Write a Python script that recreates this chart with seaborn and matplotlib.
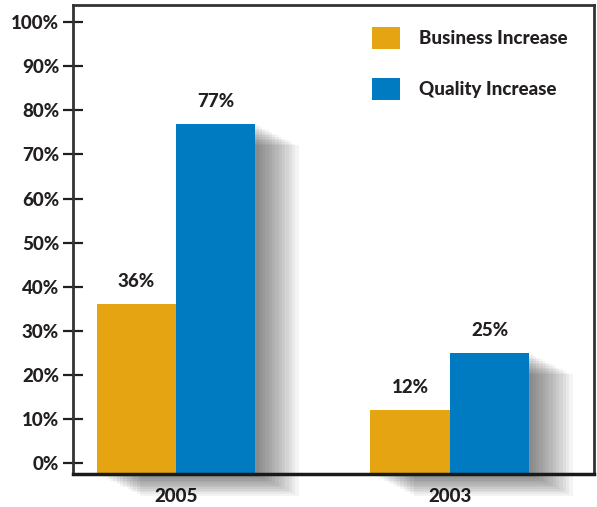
import matplotlib
matplotlib.use("Agg")
import matplotlib.pyplot as plt
import matplotlib.patheffects as pe
import seaborn as sns
import pandas as pd
from matplotlib.patches import Patch

years = ["2005", "2003"]
business = [36, 12]
quality = [77, 25]
series = ["Business Increase", "Quality Increase"]
yticks = [0, 10, 20, 30, 40, 50, 60, 70, 80, 90, 100]
colors = ["#E5A512", "#007BC2"]
txt = "#231f20"
W = "black"
FS = 13.5

df = pd.DataFrame({
    "year": years * 2,
    "value": business + quality,
    "series": [series[0]] * len(years) + [series[1]] * len(years),
})

sns.set_style("white")
plt.rcParams["font.family"] = ["Lato", "DejaVu Sans"]
plt.rcParams["font.weight"] = W

fig = plt.figure(figsize=(5.97, 5.07), dpi=100)
ax = fig.add_axes([73 / 597, 33 / 507, 521 / 597, 469 / 507])

sns.barplot(data=df, x="year", y="value", hue="series", order=years,
            hue_order=series, palette=colors, width=0.58, saturation=1,
            ax=ax, legend=False)

ymin = -2.5
shadow = [pe.SimplePatchShadow(offset=(i * 2.4, -i * 1.2), shadow_rgbFace="black", alpha=0.045)
          for i in range(1, 14)] + [pe.Normal()]
for p in ax.patches:
    p.set_linewidth(0)
    p.set_clip_on(False)
    h = p.get_height()
    p.set_y(ymin)
    p.set_height(h - ymin)
    p.set_path_effects(shadow)

for cont in ax.containers:
    ax.bar_label(cont, labels=[f"{v:.0f}%" for v in cont.datavalues], padding=10,
                 fontsize=FS, fontweight=W, color=txt)

ax.set_xlim(-0.376, 1.526)
ax.set_ylim(ymin, 103.9)
ax.set_yticks(yticks)
ax.set_yticklabels([f"{v}%" for v in yticks], fontsize=FS, fontweight=W, color=txt)
ax.tick_params(axis="y", direction="inout", length=14, width=1.6, color=txt, pad=3, left=True)
ax.set_xticks([0, 1])
ax.set_xticklabels(years, fontsize=FS, fontweight=W, color=txt)
ax.tick_params(axis="x", length=0, pad=10)
ax.set_xticks([0.2, 1.2], minor=True)
ax.tick_params(axis="x", which="minor", direction="out", length=24, width=0.8, color="#d8d8d8")
ax.set_xlabel("")
ax.set_ylabel("")
for s in ax.spines.values():
    s.set_visible(True)
    s.set_color("#333333")
    s.set_linewidth(2)
ax.spines["bottom"].set_linewidth(2.5)
ax.spines["bottom"].set_color("#1a1a1a")

handles = [Patch(facecolor=c, edgecolor="none") for c in colors]
leg = ax.legend(handles, series, loc="upper right", frameon=False, fontsize=FS,
                handlelength=1.5, handleheight=1.5, handletextpad=1.0, labelspacing=1.5,
                bbox_to_anchor=(0.981, 0.99), labelcolor=txt)
for t in leg.get_texts():
    t.set_fontweight(W)

fig.savefig("out.png", dpi=100)
